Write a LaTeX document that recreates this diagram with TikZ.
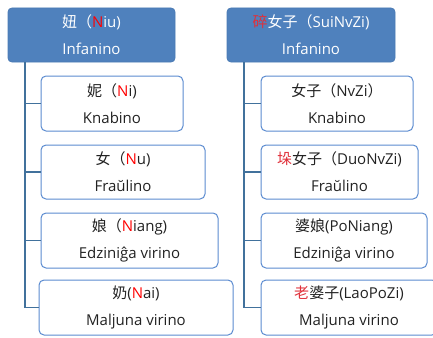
\documentclass[tikz,border=0pt]{standalone}
\usepackage{fontspec}
\setmainfont{Open Sans}
\newfontfamily\cjk{Noto Sans CJK SC}
\definecolor{headblue}{HTML}{4F81BD}
\definecolor{headedge}{HTML}{4A7AB4}
\definecolor{boxedge}{HTML}{5B8BD0}
\definecolor{connblue}{HTML}{41719C}
\definecolor{txt}{HTML}{222222}
\definecolor{redN}{HTML}{FF0000}
\definecolor{redC}{HTML}{E0303A}
\newcommand{\rn}[1]{\textcolor{redN}{#1}}
\newcommand{\rc}[1]{\textcolor{redC}{#1}}
\begin{document}
\begin{tikzpicture}[x=1pt,y=-1pt,
  head/.style={draw=headedge, fill=headblue, rounded corners=4pt, text=white,
    inner sep=0pt, align=center, font=\fontsize{15}{27}\selectfont, line width=0.8pt},
  child/.style={draw=boxedge, fill=white, rounded corners=5pt, text=txt,
    inner sep=0pt, align=center, font=\fontsize{15}{27}\selectfont, line width=1pt},
  conn/.style={draw=connblue, line width=1.3pt}]
\useasboundingbox (0,0) rectangle (433,337);

% left column
\node[head, minimum width=167, minimum height=54] (L) at (91.5,35)
  {{\cjk 妞（}\rn{N}iu)\\Infanino};
\node[child, minimum width=142, minimum height=55] (L1) at (112,103.5)
  {{\cjk 妮（}\rn{N}i)\\Knabino};
\node[child, minimum width=164, minimum height=54] (L2) at (123,172)
  {{\cjk 女（}\rn{N}u)\\Fraŭlino};
\node[child, minimum width=177, minimum height=55] (L3) at (129.5,240.5)
  {{\cjk 娘（}\rn{N}iang)\\Edziniĝa virino};
\node[child, minimum width=194, minimum height=55] (L4) at (136,307.5)
  {{\cjk 奶}(\rn{N}ai)\\Maljuna virino};

% right column
\node[head, minimum width=168, minimum height=54] (R) at (311,35)
  {{\cjk \rc{碎}女子（}SuiNvZi)\\Infanino};
\node[child, minimum width=152, minimum height=55] (R1) at (337,103.5)
  {{\cjk 女子（}NvZi{\cjk ）}\\Knabino};
\node[child, minimum width=157, minimum height=54] (R2) at (339.5,172)
  {{\cjk \rc{垛}女子（}DuoNvZi)\\Fraŭlino};
\node[child, minimum width=166, minimum height=55] (R3) at (344,240.5)
  {{\cjk 婆娘}(PoNiang)\\Edziniĝa virino};
\node[child, minimum width=176, minimum height=55] (R4) at (349,307.5)
  {{\cjk \rc{老}婆子}(LaoPoZi)\\Maljuna virino};

% connectors
\coordinate (Lx) at (25,0);
\coordinate (Rx) at (244,0);
\draw[conn] (Lx |- L.south) -- (Lx |- L4.west) -- (L4.west);
\foreach \n in {L1,L2,L3} \draw[conn] (Lx |- \n.west) -- (\n.west);
\draw[conn] (Rx |- R.south) -- (Rx |- R4.west) -- (R4.west);
\foreach \n in {R1,R2,R3} \draw[conn] (Rx |- \n.west) -- (\n.west);
\end{tikzpicture}
\end{document}
